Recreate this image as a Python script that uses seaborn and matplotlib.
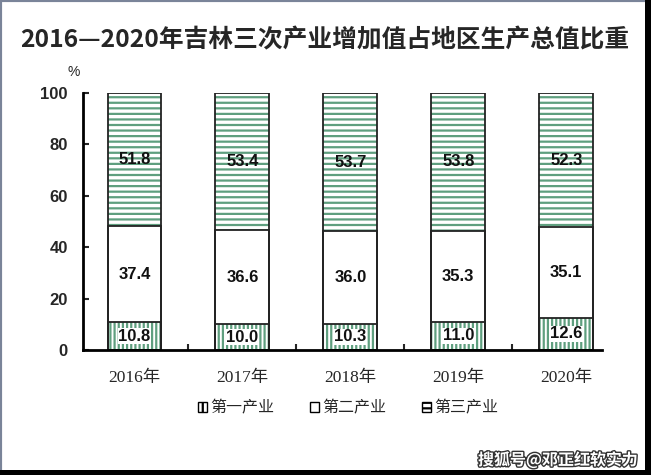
import numpy as np
import pandas as pd
import seaborn as sns
import matplotlib.pyplot as plt
import matplotlib.patheffects as pe
from matplotlib.patches import Patch, Rectangle

# 数据
years = ['2016年', '2017年', '2018年', '2019年', '2020年']
primary = [10.8, 10.0, 10.3, 11.0, 12.6]
secondary = [37.4, 36.6, 36.0, 35.3, 35.1]
tertiary = [51.8, 53.4, 53.7, 53.8, 52.3]
series_names = ['第一产业', '第二产业', '第三产业']
yticks = [0, 20, 40, 60, 80, 100]

sns.set_style('white')
plt.rcParams['font.family'] = ['Liberation Sans', 'Noto Sans CJK SC']
plt.rcParams['hatch.linewidth'] = 1.6

green = '#5f9f7f'

df = pd.DataFrame({'year': years, 'p': primary, 's': secondary, 't': tertiary})
df['c1'] = df['p']
df['c2'] = df['p'] + df['s']
df['c3'] = df['p'] + df['s'] + df['t']

fig = plt.figure(figsize=(6.51, 4.75), dpi=100)
ax = fig.add_axes([0.1275, 0.263, 0.797, 0.541])

# 填充层（从上到下叠加）
sns.barplot(data=df, x='year', y='c3', color='white', edgecolor=green, hatch='---',
            linewidth=0, width=0.5, ax=ax, saturation=1)
sns.barplot(data=df, x='year', y='c2', color='white', edgecolor='white',
            linewidth=0, width=0.5, ax=ax, saturation=1)
sns.barplot(data=df, x='year', y='c1', color='white', edgecolor=green, hatch='||||',
            linewidth=0, width=0.5, ax=ax, saturation=1)
# 边框层
for col in ['c3', 'c2', 'c1']:
    sns.barplot(data=df, x='year', y=col, fill=False, edgecolor='#222222',
                linewidth=1.3, width=0.5, ax=ax)

# 数值标签
for i in range(len(years)):
    ax.text(i, df['c1'][i] / 2, f'{primary[i]:.1f}', ha='center', va='center',
            fontsize=12, fontweight='bold', color='#111111',
            bbox=dict(facecolor='white', edgecolor='none', pad=0.5))
    ax.text(i, df['c1'][i] + secondary[i] / 2, f'{secondary[i]:.1f}', ha='center',
            va='center', fontsize=12, fontweight='bold', color='#111111')
    ax.text(i, df['c2'][i] + tertiary[i] / 2, f'{tertiary[i]:.1f}', ha='center',
            va='center', fontsize=12, fontweight='bold', color='#111111')

ax.set_xlim(-0.477, 4.33)
ax.set_ylim(0, 100)
ax.set_yticks(yticks)
ax.set_yticklabels([str(v) for v in yticks], fontsize=12, fontweight='bold')
ax.set_xlabel('')
ax.set_ylabel('')
ax.set_xticks(range(len(years)))
ax.set_xticklabels(years, fontsize=12.5, family=['Liberation Serif', 'Noto Sans CJK SC'])
ax.set_xticks([0.5, 1.5, 2.5, 3.5], minor=True)
ax.tick_params(axis='x', which='major', length=0, pad=14)
ax.tick_params(axis='x', which='minor', direction='in', length=4, width=1.5, bottom=True)
ax.tick_params(axis='y', direction='in', length=4, width=1.5, left=True, pad=11)
for s in ['top', 'right']:
    ax.spines[s].set_visible(False)
for s in ['left', 'bottom']:
    ax.spines[s].set_linewidth(2)
    ax.spines[s].set_color('black')
ax.grid(False)

# 图例
handles = [Patch(facecolor='white', edgecolor='black', hatch='|||', linewidth=1),
           Patch(facecolor='white', edgecolor='black', linewidth=1),
           Patch(facecolor='white', edgecolor='black', hatch='---', linewidth=1)]
fig.legend(handles, series_names, loc='center', bbox_to_anchor=(348 / 651, 1 - 408 / 475),
           ncol=3, frameon=False, handlelength=0.6, handleheight=0.6, handletextpad=0.2,
           columnspacing=2.2, prop={'family': ['Noto Sans CJK SC'], 'size': 11.5})

# 标题与单位
fig.text(325 / 651, 1 - 40 / 475, '2016—2020年吉林三次产业增加值占地区生产总值比重',
         ha='center', va='center', fontsize=17.8, fontweight='bold',
         family=['Noto Sans CJK SC', 'DejaVu Sans'])
fig.text(74 / 651, 1 - 72 / 475, '%', ha='center', va='center', fontsize=10,
         family=['Liberation Sans'])

# 水印
fig.text(638 / 651, 1 - 460 / 475, '搜狐号@邓正红软实力', ha='right', va='center',
         fontsize=11.5, color='white', fontweight='bold', family=['Noto Sans CJK SC'],
         path_effects=[pe.withStroke(linewidth=2, foreground='#333333')])

# 外框
fig.patches.append(Rectangle((0, 0), 1, 1, transform=fig.transFigure, fill=False,
                             edgecolor='#7a8499', linewidth=3))
fig.patches.append(Rectangle((0, 0), 1, 5 / 475, transform=fig.transFigure,
                             facecolor='black', edgecolor='none'))
fig.patches.append(Rectangle((1 - 6 / 651, 0), 6 / 651, 1, transform=fig.transFigure,
                             facecolor='black', edgecolor='none'))

fig.savefig('out.png', dpi=100)
